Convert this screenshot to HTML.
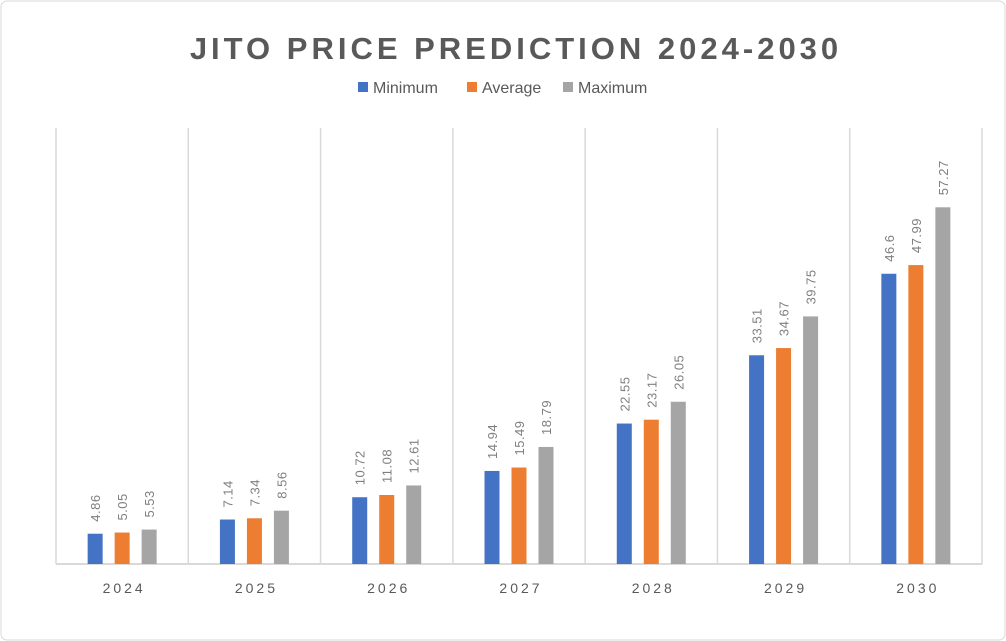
<!DOCTYPE html>
<html><head><meta charset="utf-8"><style>
body{margin:0;background:#fff;}
svg{display:block;font-family:"Liberation Sans",sans-serif;}
</style></head><body>
<svg width="1006" height="641" viewBox="0 0 1006 641">
<rect x="1" y="1" width="1004" height="639" rx="6" fill="#fff" stroke="#d9d9d9" stroke-width="1"/>
<text x="516" y="59" text-anchor="middle" font-size="31" font-weight="bold" fill="#595959" letter-spacing="4">JITO PRICE PREDICTION 2024-2030</text>
<g id="legend"></g>
<g id="grid"></g>
<g id="bars"></g>
</svg>
<script>
const categories=["2024","2025","2026","2027","2028","2029","2030"];
const seriesNames=["Minimum","Average","Maximum"];
const minimum=[4.86,7.14,10.72,14.94,22.55,33.51,46.6];
const average=[5.05,7.34,11.08,15.49,23.17,34.67,47.99];
const maximum=[5.53,8.56,12.61,18.79,26.05,39.75,57.27];
const labelMin=["4.86","7.14","10.72","14.94","22.55","33.51","46.6"];
const labelAvg=["5.05","7.34","11.08","15.49","23.17","34.67","47.99"];
const labelMax=["5.53","8.56","12.61","18.79","26.05","39.75","57.27"];
const colors=["#4472c4","#ed7d31","#a5a5a5"];
const NS="http://www.w3.org/2000/svg";
const x0=56,x1=982,yBase=564,yTop=128,yMax=70;
const cw=(x1-x0)/categories.length;
const y=v=>yBase-(v/yMax)*(yBase-yTop);
const xc=i=>x0+cw*(i+0.5);
function mk(tag,attrs,parent){const e=document.createElementNS(NS,tag);for(const k in attrs)e.setAttribute(k,attrs[k]);parent.appendChild(e);return e;}
const grid=document.getElementById('grid'),bars=document.getElementById('bars'),legend=document.getElementById('legend');
for(let i=0;i<=categories.length;i++){
  const l=mk('line',{x1:x0+cw*i,x2:x0+cw*i,y1:yTop,y2:yBase,stroke:'#d9d9d9','stroke-width':1.5},grid);
  
  
}
const ax=mk('line',{x1:x0,x2:x1,y1:yBase,y2:yBase,stroke:'#d9d9d9','stroke-width':2},grid);


const series=[minimum,average,maximum],labels=[labelMin,labelAvg,labelMax];
categories.forEach((c,i)=>{
  series.forEach((s,j)=>{
    const cx=xc(i)+(j-1)*27;
    const r=mk('rect',{x:cx-7.5,y:y(s[i]),width:15,height:yBase-y(s[i]),fill:colors[j]},bars);
    
    
    const ly=y(s[i])-12;
    const t=mk('text',{x:cx+5,y:ly,transform:`rotate(-90 ${cx+5} ${ly})`,'font-size':13,fill:'#7f7f7f','letter-spacing':0.5},bars);
    t.textContent=labels[j][i];
    
    
  });
  const t=mk('text',{x:xc(i)+2,y:593,'text-anchor':'middle','font-size':14,fill:'#595959','letter-spacing':3},bars);
  t.textContent=c;
  
  
});
const lx=[358,467,563];
seriesNames.forEach((n,j)=>{
  const r=mk('rect',{x:lx[j],y:82,width:10,height:10,fill:colors[j]},legend);
  
  
  const t=mk('text',{x:lx[j]+15,y:93,'font-size':16,fill:'#595959'},legend);
  t.textContent=n;
  
  
});
</script>
</body></html>
